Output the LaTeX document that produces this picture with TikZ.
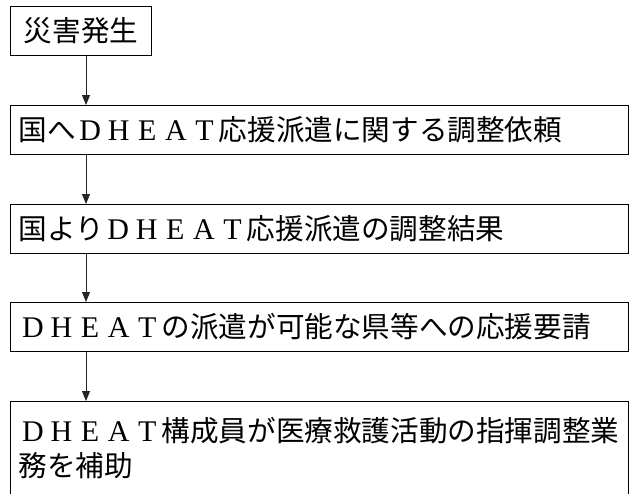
\documentclass[tikz,border=0pt]{standalone}
\usepackage{fontspec}
\usetikzlibrary{arrows.meta}
\newfontfamily\jpfont{Noto Sans CJK JP}
\newfontfamily\fwlatfont{Liberation Serif}
\newcommand\fwl[1]{\makebox[28.6pt]{\fwlatfont\fontsize{30}{30}\selectfont #1}}
\newcommand\dheat{\fwl{D}\fwl{H}\fwl{E}\fwl{A}\fwl{T}}
\begin{document}
\begin{tikzpicture}[x=1pt,y=-1pt,
  box/.style={draw=black, line width=1.2pt, rectangle, inner xsep=8pt, inner ysep=0pt,
    minimum height=49pt, anchor=north west, text height=25pt, text depth=3.4pt,
    font=\jpfont\fontsize{28.6}{35}\selectfont, text=black},
  widebox/.style={box, text width=602pt, align=left},
  flow/.style={draw=black!85, line width=1pt, -{Triangle[width=8pt,length=10pt]}}]
\useasboundingbox (0,0) rectangle (631,493);
\clip (0,0) rectangle (631,493);
\coordinate (ax) at (86,0);
\node[box, minimum width=141pt] (b1) at (10,6) {災害発生};
\node[widebox] (b2) at (10,105) {国へ\dheat 応援派遣に関する調整依頼};
\node[widebox] (b3) at (10,204) {国より\dheat 応援派遣の調整結果};
\node[widebox] (b4) at (10,302) {\dheat の派遣が可能な県等への応援要請};
\node[widebox, minimum height=0pt, text height=39.8pt, text depth=75pt] (b5) at (10,401)
  {\dheat 構成員が医療救護活動の指揮調整業\\務を補助};
\draw[flow] (b1.south -| ax) -- (b2.north -| ax);
\draw[flow] (b2.south -| ax) -- (b3.north -| ax);
\draw[flow] (b3.south -| ax) -- (b4.north -| ax);
\draw[flow] (b4.south -| ax) -- (b5.north -| ax);
\end{tikzpicture}
\end{document}
